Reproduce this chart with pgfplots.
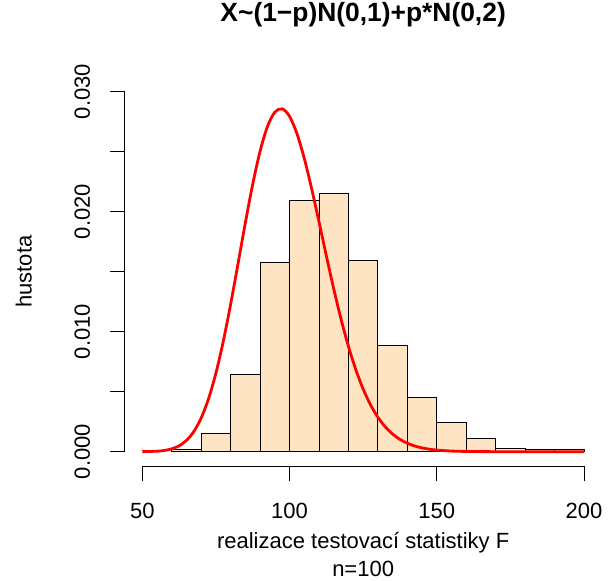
\documentclass[border=0pt]{standalone}
\usepackage{fontspec}
\setmainfont{Liberation Sans}
\usepackage{pgfplots}
\pgfplotsset{compat=1.18}
\definecolor{bisque}{RGB}{255,228,196}

\begin{document}
\begin{tikzpicture}
\begin{axis}[
  scale only axis,
  width=477.1bp, height=388.8bp,
  xmin=44, xmax=206,
  ymin=-0.0012, ymax=0.0312,
  clip=false,
  axis line style={draw=none},
  xtick pos=bottom, ytick pos=left,
  tick align=outside,
  major tick length=15bp,
  tick style={black, line width=0.9bp},
  scaled y ticks=false,
  xtick={50,100,150,200},
  xticklabels={50,100,150,200},
  ytick={0,0.005,0.01,0.015,0.02,0.025,0.03},
  yticklabels={0.000,,0.010,,0.020,,0.030},
  font=\fontsize{22bp}{26bp}\selectfont,
  xticklabel style={anchor=base, inner sep=0pt},
  xticklabel shift=37.2bp,
  yticklabel style={rotate=90, anchor=base, inner sep=0pt},
  yticklabel shift=19.6bp,
  xlabel={realizace testovací statistiky F},
  xlabel style={at={(axis description cs:0.5,0)}, anchor=base, inner sep=0pt, yshift=-82.2bp},
  title={X\char"7E(1\char"2212p)N(0,1)+p*N(0,2)},
  title style={at={(axis description cs:0.5,1)}, anchor=base, inner sep=0pt,
    yshift=50bp, font=\fontsize{26.4bp}{30bp}\selectfont\bfseries},
]

% histogram (density), bins of width 10
\addplot[ybar interval, fill=bisque, draw=black, line width=0.9bp] coordinates {
  (60,0.0002) (70,0.00156) (80,0.00646) (90,0.0158) (100,0.0209)
  (110,0.0215) (120,0.0159) (130,0.00886) (140,0.0045) (150,0.0024)
  (160,0.0011) (170,0.0003) (180,0.0002) (190,0.0002) (200,0.0002)
};

% theoretical density
\addplot[red, line width=2.8bp, smooth, no marks] coordinates {
  (50,0.000005) (55,0.000042) (57.5,0.000104) (60,0.000236) (62.5,0.000489)
  (65,0.000939) (67.5,0.001678) (70,0.002806) (72.5,0.004409) (75,0.006539)
  (77.5,0.009189) (80,0.012279) (82.5,0.015646) (85,0.019072) (87.5,0.022289)
  (90,0.025037) (92.5,0.027090) (95,0.028292) (97.5,0.028573) (100,0.027948)
  (102.5,0.026521) (105,0.024450) (107.5,0.021930) (110,0.019161) (112.5,0.016328)
  (115,0.013582) (117.5,0.011043) (120,0.008784) (122.5,0.006841) (125,0.005221)
  (127.5,0.003909) (130,0.002872) (132.5,0.002072) (135,0.001470) (137.5,0.001025)
  (140,0.000704) (142.5,0.000476) (145,0.000317) (147.5,0.000208) (150,0.000135)
  (155,0.000054) (160,0.000021) (165,0.000008) (170,0.000003)
  (180,0) (190,0) (200,0)
};

% R-style axis lines spanning the tick range
\draw[line width=0.9bp] (axis cs:50,-0.0012) -- (axis cs:200,-0.0012);
\draw[line width=0.9bp] (axis cs:44,0) -- (axis cs:44,0.03);
\node[anchor=base, inner sep=0pt] at ([yshift=-110.6bp]rel axis cs:0.5,0) {n=100};
\node[rotate=90, anchor=base, inner sep=0pt] at ([xshift=-92.9bp]rel axis cs:0,0.5) {hustota};
\end{axis}
\pgfresetboundingbox
\path (-124.6bp,-114.9bp) rectangle (487.4bp,466.1bp);
\end{tikzpicture}
\end{document}
